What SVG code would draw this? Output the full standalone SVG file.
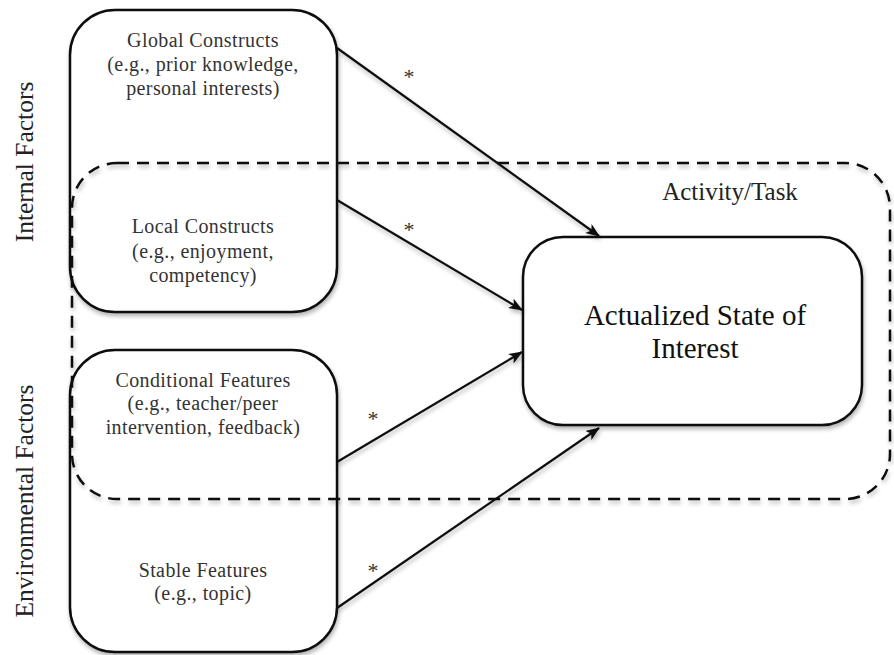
<svg xmlns="http://www.w3.org/2000/svg" width="894" height="655" viewBox="0 0 894 655">
<style>
.box{fill:#fff;stroke:#111;stroke-width:2.5;filter:url(#sh)}
.dash{fill:none;stroke:#111;stroke-width:2.5;stroke-dasharray:12 8;filter:url(#sh)}
.conn{stroke:#111;stroke-width:2.2;fill:none;marker-end:url(#ah);filter:url(#sh)}
.t{font-family:"Liberation Serif","Times New Roman",serif;font-size:20px;letter-spacing:0.4px;fill:#333;text-anchor:middle}
.big{font-family:"Liberation Serif","Times New Roman",serif;font-size:29px;fill:#111;text-anchor:middle}
.mid{font-family:"Liberation Serif","Times New Roman",serif;font-size:25px;fill:#222;text-anchor:middle}
.side{font-family:"Liberation Serif","Times New Roman",serif;font-size:25.5px;fill:#222;text-anchor:middle}
.star{font-family:"Liberation Serif","Times New Roman",serif;font-size:22px;fill:#333;text-anchor:middle}
</style>
<defs>
<filter id="sh" x="-10%" y="-10%" width="130%" height="130%">
<feGaussianBlur in="SourceAlpha" stdDeviation="2"/>
<feOffset dx="1" dy="3" result="b"/>
<feComponentTransfer><feFuncA type="linear" slope="0.3"/></feComponentTransfer>
<feMerge><feMergeNode/><feMergeNode in="SourceGraphic"/></feMerge>
</filter>
<marker id="ah" viewBox="0 0 14 11" refX="13" refY="5.5" markerWidth="14" markerHeight="11" markerUnits="userSpaceOnUse" orient="auto">
<path d="M0,0 L14,5.5 L0,11 L3.5,5.5 Z" fill="#111"/>
</marker>
</defs>
<g id="internal">
<rect class="box" x="70" y="10" width="267" height="302" rx="45" ry="45"/>
</g>
<g id="environmental">
<rect class="box" x="70" y="350" width="267" height="302" rx="45" ry="45"/>
</g>
<g id="activity-task">
<rect class="dash" x="72" y="163" width="818" height="336" rx="45" ry="45"/>
<text class="mid" x="730" y="200">Activity/Task</text>
</g>
<g id="global-constructs">
<text class="t" x="203" y="47">Global Constructs</text>
<text class="t" x="203" y="71">(e.g., prior knowledge,</text>
<text class="t" x="203" y="95">personal interests)</text>
</g>
<g id="local-constructs">
<text class="t" x="203" y="233">Local Constructs</text>
<text class="t" x="203" y="258">(e.g., enjoyment,</text>
<text class="t" x="203" y="282">competency)</text>
</g>
<g id="conditional-features">
<text class="t" x="203" y="387">Conditional Features</text>
<text class="t" x="203" y="410">(e.g., teacher/peer</text>
<text class="t" x="203" y="434">intervention, feedback)</text>
</g>
<g id="stable-features">
<text class="t" x="203" y="577">Stable Features</text>
<text class="t" x="203" y="600">(e.g., topic)</text>
</g>
<g id="actualized">
<rect class="box" x="523" y="237" width="339" height="188" rx="40" ry="40"/>
<text class="big" x="695" y="325">Actualized State of</text>
<text class="big" x="695" y="358">Interest</text>
</g>
<g id="labels">
<text class="side" transform="translate(33,162) rotate(-90)">Internal Factors</text>
<text class="side" transform="translate(33,501) rotate(-90)">Environmental Factors</text>
</g>
<g id="connectors">
<line class="conn" x1="337" y1="48" x2="599" y2="236"/>
<line class="conn" x1="337" y1="200" x2="522" y2="310"/>
<line class="conn" x1="337" y1="462" x2="522" y2="352"/>
<line class="conn" x1="337" y1="608" x2="599" y2="428"/>
<text class="star" x="409" y="84">*</text>
<text class="star" x="409" y="237">*</text>
<text class="star" x="373" y="426">*</text>
<text class="star" x="373" y="578">*</text>
</g>
</svg>
